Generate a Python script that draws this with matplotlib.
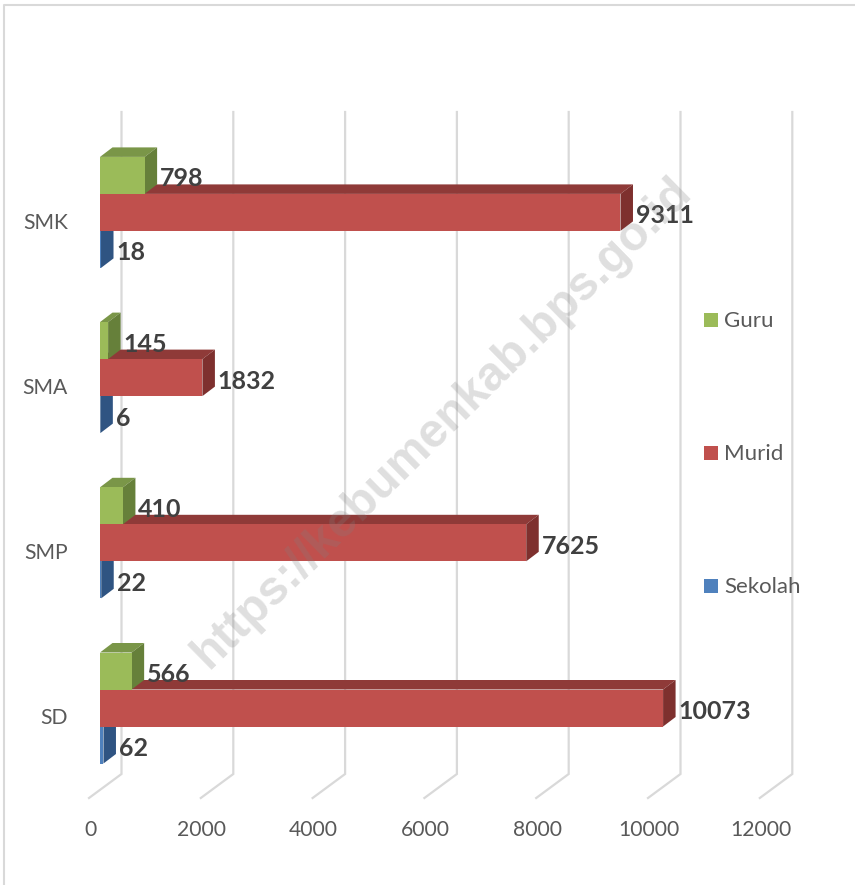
import numpy as np
import matplotlib
matplotlib.use('Agg')
import matplotlib.pyplot as plt
from matplotlib.patches import Polygon, Rectangle

plt.rcParams['font.family'] = ['Lato', 'DejaVu Sans']

# Data
categories = ['SD', 'SMP', 'SMA', 'SMK']
sekolah = [62, 22, 6, 18]
murid = [10073, 7625, 1832, 9311]
guru = [566, 410, 145, 798]
x_ticks = [0, 2000, 4000, 6000, 8000, 10000, 12000]

W, H = 855, 885
X0 = 100      # pixel of value 0 on the bar front
SX = 0.0559   # pixel per value
Y0 = 708      # pixel of the centre of SD
SY = 165.2    # pixel per category

fig = plt.figure(figsize=(W / 100, H / 100), dpi=100)
ax = fig.add_axes([0, 0, 1, 1])
ax.set_xlim(-X0 / SX, (W - X0) / SX)
ax.set_ylim((Y0 - H) / SY, Y0 / SY)
ax.axis('off')

# offsets in data units
def dx(px):
    return px / SX

def dy(px):
    return px / SY

px = ax.transData.inverted()
def to_data(x, y):
    return px.transform(fig.dpi_scale_trans.transform((x / 100, (H - y) / 100)))

# Chart frame
frame_col = '#D9D9D9'
fig.add_artist(plt.Line2D([3.5 / W, 3.5 / W, 1], [0, 1 - 5 / H, 1 - 5 / H], color=frame_col, lw=1.5))

# Gridlines: back wall and floor
y_back_top = (Y0 - 112) / SY
y_back_bot = (Y0 - 774) / SY
y_front = (Y0 - 798) / SY
for t in x_ticks:
    xb = t + dx(21.5)
    xf = t + dx(-11)
    ax.plot([xb, xb, xf], [y_back_top, y_back_bot, y_front], color=frame_col, lw=1.6, zorder=1,
            solid_joinstyle='miter')
    xl, yl = to_data(0, 830)
    ax.text(t + dx(-10), yl, str(t), ha='center', va='center', fontsize=15.2, color='#595959')

bar_h = 37 / SY
dep_x = dx(12.5)
dep_y = dy(9.5)
series = [
    ('Sekolah', sekolah, -1, '#4F81BD', '#3A6396', '#2F5482'),
    ('Murid', murid, 0, '#C0504D', '#8F3A38', '#7E302E'),
    ('Guru', guru, 1, '#9BBB59', '#7A9648', '#66803A'),
]
y_pos = np.arange(len(categories))

for name, vals, off, c_front, c_top, c_side in series:
    y = y_pos + off * bar_h
    for yi, v in zip(y, vals):
        top = yi + bar_h / 2
        bot = yi - bar_h / 2
        ax.add_patch(Polygon([(0, top), (dep_x, top + dep_y), (v + dep_x, top + dep_y), (v, top)],
                             closed=True, fc=c_top, ec='none', zorder=2 + off))
        ax.add_patch(Polygon([(v, top), (v + dep_x, top + dep_y), (v + dep_x, bot + dep_y), (v, bot)],
                             closed=True, fc=c_side, ec='none', zorder=2 + off))
        ax.text(v + dx(15.5), yi - dy(3.5), str(v), ha='left', va='center', fontsize=18,
                fontweight='bold', color='#404040', zorder=8)
    ax.barh(y, vals, height=bar_h, color=c_front, zorder=3 + off)

# Category labels
for i, cat in enumerate(categories):
    ax.text(dx(-32), i - dy(10.5), cat, ha='right', va='center', fontsize=15.2, color='#595959')

# Legend
leg_y = [321, 454, 587]
for (name, vals, off, c_front, c_top, c_side), ly in zip(series[::-1], leg_y):
    xa, ya = to_data(704, ly + 6)
    ax.add_patch(Rectangle((xa, ya), dx(14), dy(14), fc=c_front, ec='none', zorder=6))
    xt, yt = to_data(724, ly)
    ax.text(xt, yt, name, ha='left', va='center', fontsize=16, color='#595959')

# Watermark
fig.text(442 / W, 1 - 423 / H, 'https://kebumenkab.bps.go.id', rotation=44.5, rotation_mode='anchor',
         ha='center', va='center', fontsize=34.5, fontweight='bold', family='Liberation Sans',
         color='#808080', alpha=0.25, zorder=10)

fig.savefig('out.png', dpi=100)
